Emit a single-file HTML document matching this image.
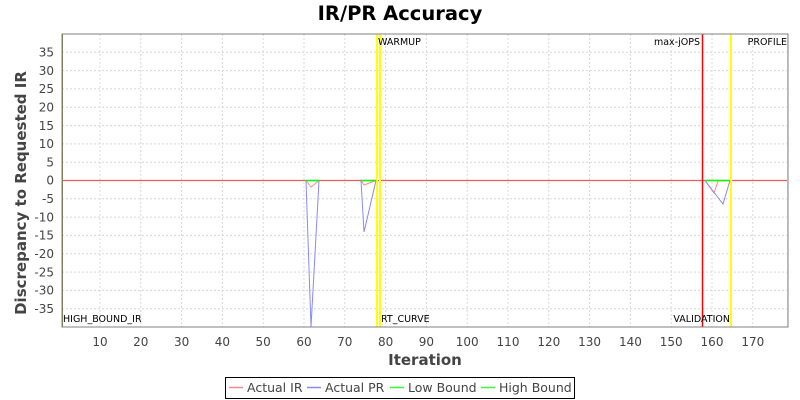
<!DOCTYPE html>
<html><head><style>body{margin:0;background:#fff}svg{display:block}text{font-family:"DejaVu Sans","Liberation Sans",sans-serif}</style></head><body>
<svg width="800" height="400" viewBox="0 0 800 400" xmlns="http://www.w3.org/2000/svg">
<rect width="800" height="400" fill="#fff"/>
<text x="400" y="20" text-anchor="middle" font-size="19.5" font-weight="bold" fill="#000">IR/PR Accuracy</text>
<rect x="62" y="34" width="726" height="293" fill="#fff"/>
<g stroke="#d8d8d8" stroke-width="1" stroke-dasharray="2,2">
<line x1="62" x2="788" y1="52.3" y2="52.3"/><line x1="62" x2="788" y1="70.6" y2="70.6"/><line x1="62" x2="788" y1="88.9" y2="88.9"/><line x1="62" x2="788" y1="107.2" y2="107.2"/><line x1="62" x2="788" y1="125.6" y2="125.6"/><line x1="62" x2="788" y1="143.9" y2="143.9"/><line x1="62" x2="788" y1="162.2" y2="162.2"/><line x1="62" x2="788" y1="198.8" y2="198.8"/><line x1="62" x2="788" y1="217.1" y2="217.1"/><line x1="62" x2="788" y1="235.4" y2="235.4"/><line x1="62" x2="788" y1="253.8" y2="253.8"/><line x1="62" x2="788" y1="272.1" y2="272.1"/><line x1="62" x2="788" y1="290.4" y2="290.4"/><line x1="62" x2="788" y1="308.7" y2="308.7"/>
<line y1="34" y2="327" x1="100" x2="100"/><line y1="34" y2="327" x1="140.8" x2="140.8"/><line y1="34" y2="327" x1="181.6" x2="181.6"/><line y1="34" y2="327" x1="222.4" x2="222.4"/><line y1="34" y2="327" x1="263.2" x2="263.2"/><line y1="34" y2="327" x1="304" x2="304"/><line y1="34" y2="327" x1="344.8" x2="344.8"/><line y1="34" y2="327" x1="385.6" x2="385.6"/><line y1="34" y2="327" x1="426.4" x2="426.4"/><line y1="34" y2="327" x1="467.2" x2="467.2"/><line y1="34" y2="327" x1="508" x2="508"/><line y1="34" y2="327" x1="548.8" x2="548.8"/><line y1="34" y2="327" x1="589.6" x2="589.6"/><line y1="34" y2="327" x1="630.4" x2="630.4"/><line y1="34" y2="327" x1="671.2" x2="671.2"/><line y1="34" y2="327" x1="712" x2="712"/><line y1="34" y2="327" x1="752.8" x2="752.8"/>
</g>
<line x1="62" x2="788" y1="180.5" y2="180.5" stroke="#e06060" stroke-width="1.2"/>
<g stroke="#ffff00" stroke-width="2"><line x1="377" x2="377" y1="34" y2="327"/><line x1="380" x2="380" y1="34" y2="327"/><line x1="731" x2="731" y1="34" y2="327"/></g>
<line x1="787.5" x2="787.5" y1="34" y2="327" stroke="#ffff66" stroke-width="1"/>
<line x1="702.5" x2="702.5" y1="34" y2="327" stroke="#ff0000" stroke-width="1.5"/>
<g fill="none" stroke-width="1">
<polyline points="306,180.5 311,187 319,180.5" stroke="#ff8888"/>
<polyline points="361,180.5 364,185 376,180.5" stroke="#ff8888"/>
<polyline points="705,180.5 714,193 718,181 730,180.5" stroke="#ff8888"/>
<polyline points="306,180.5 311,327 319,180.5" stroke="#8888ff"/>
<polyline points="361,180.5 364,232 376,180.5" stroke="#8888ff"/>
<polyline points="705,180.5 713,191 723,204 730,180.5" stroke="#8888ff"/>
</g>
<g stroke="#00ff00" stroke-width="1.5"><line x1="306" x2="319" y1="180.5" y2="180.5"/><line x1="361" x2="376" y1="180.5" y2="180.5"/><line x1="705" x2="730" y1="180.5" y2="180.5"/></g>
<g font-size="9.5" fill="#000"><text x="378" y="45">WARMUP</text><text x="381" y="322">RT_CURVE</text><text x="700" y="45" text-anchor="end">max-jOPS</text><text x="787" y="45" text-anchor="end">PROFILE</text><text x="730" y="322" text-anchor="end">VALIDATION</text><text x="63" y="322">HIGH_BOUND_IR</text></g>
<rect x="62" y="34" width="726" height="293" fill="none" stroke="#808080"/>
<line x1="62.5" x2="62.5" y1="34" y2="327" stroke="#808060"/>
<g font-size="12" fill="#444" text-anchor="end">
<text x="54" y="56.5">35</text><text x="54" y="74.8">30</text><text x="54" y="93.1">25</text><text x="54" y="111.4">20</text><text x="54" y="129.8">15</text><text x="54" y="148.1">10</text><text x="54" y="166.4">5</text><text x="54" y="184.7">0</text><text x="54" y="203">-5</text><text x="54" y="221.3">-10</text><text x="54" y="239.6">-15</text><text x="54" y="258">-20</text><text x="54" y="276.3">-25</text><text x="54" y="294.6">-30</text><text x="54" y="312.9">-35</text>
</g>
<g font-size="12" fill="#444" text-anchor="middle">
<text x="100" y="346">10</text><text x="140.8" y="346">20</text><text x="181.6" y="346">30</text><text x="222.4" y="346">40</text><text x="263.2" y="346">50</text><text x="304" y="346">60</text><text x="344.8" y="346">70</text><text x="385.6" y="346">80</text><text x="426.4" y="346">90</text><text x="467.2" y="346">100</text><text x="508" y="346">110</text><text x="548.8" y="346">120</text><text x="589.6" y="346">130</text><text x="630.4" y="346">140</text><text x="671.2" y="346">150</text><text x="712" y="346">160</text><text x="752.8" y="346">170</text>
</g>
<text x="425" y="365" text-anchor="middle" font-size="15" font-weight="bold" fill="#444">Iteration</text>
<text transform="translate(26,193) rotate(-90)" text-anchor="middle" font-size="15" font-weight="bold" fill="#444">Discrepancy to Requested IR</text>
<rect x="225.5" y="377.5" width="349" height="21" fill="#fff" stroke="#000"/>
<g font-size="12.5" fill="#444">
<line x1="229" x2="243" y1="387.5" y2="387.5" stroke="#ff8888" stroke-width="1.5"/><text x="247" y="392">Actual IR</text>
<line x1="307" x2="321" y1="387.5" y2="387.5" stroke="#8888ff" stroke-width="1.5"/><text x="325" y="392">Actual PR</text>
<line x1="390" x2="404" y1="387.5" y2="387.5" stroke="#33ff33" stroke-width="1.5"/><text x="408" y="392">Low Bound</text>
<line x1="481" x2="495" y1="387.5" y2="387.5" stroke="#33ff33" stroke-width="1.5"/><text x="499" y="392">High Bound</text>
</g>
</svg>
</body></html>
